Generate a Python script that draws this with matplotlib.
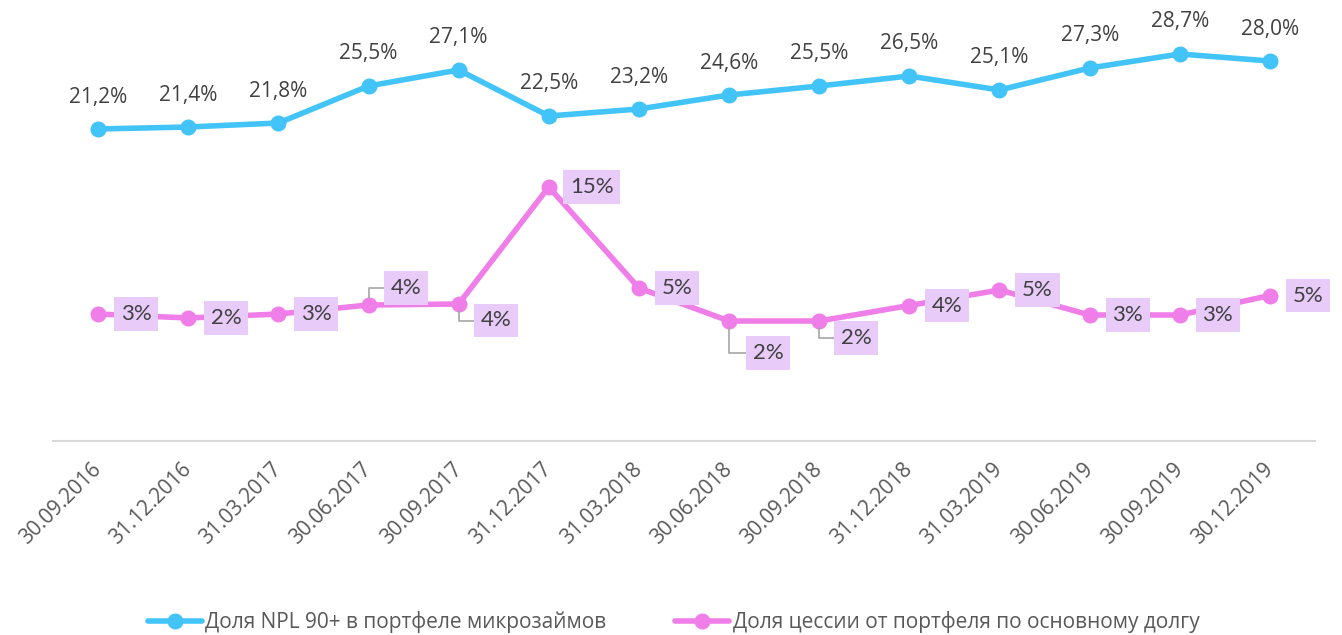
import matplotlib
matplotlib.use("Agg")
import matplotlib.pyplot as plt

categories = ["30.09.2016", "31.12.2016", "31.03.2017", "30.06.2017", "30.09.2017",
              "31.12.2017", "31.03.2018", "30.06.2018", "30.09.2018", "31.12.2018",
              "31.03.2019", "30.06.2019", "30.09.2019", "30.12.2019"]
npl_values = [21.2, 21.4, 21.8, 25.5, 27.1, 22.5, 23.2, 24.6, 25.5, 26.5, 25.1, 27.3, 28.7, 28.0]
cession_values = [2.7, 2.3, 2.7, 3.6, 3.7, 15.4, 5.3, 2.0, 2.0, 3.55, 5.1, 2.6, 2.6, 4.55]
series_names = ["Доля NPL 90+ в портфеле микрозаймов",
                "Доля цессии от портфеля по основному долгу"]

BLUE = "#42C4F8"
PINK = "#F07EE8"
BOX = "#E8CBF9"
TXT = "#404040"
GRAY = "#595959"

plt.rcParams['font.family'] = ['Open Sans', 'DejaVu Sans']

fig = plt.figure(figsize=(13.42, 6.35), dpi=100)
ax = fig.add_axes([53/1342, 194/635, 1262/1342, 400/635])
x = list(range(len(categories)))

ax.plot(x, npl_values, color=BLUE, lw=4, marker='o', ms=10.5, zorder=4,
        solid_capstyle='round', label=series_names[0])
ax.plot(x, cession_values, color=PINK, lw=4, marker='o', ms=10.5, zorder=4,
        solid_capstyle='round', label=series_names[1])

ax.set_xlim(-0.5, len(categories) - 0.5)
ax.set_ylim(-10, 30)

for s in ['top', 'right', 'left']:
    ax.spines[s].set_visible(False)
ax.spines['bottom'].set_position(('data', -10))
ax.spines['bottom'].set_color('#D9D9D9')
ax.spines['bottom'].set_linewidth(1.5)
ax.set_yticks([])
ax.set_xticks(x)
ax.set_xticklabels(categories, rotation=45, ha='right', va='center',
                   rotation_mode='anchor', fontsize=15, color=GRAY)
ax.tick_params(axis='x', length=0, pad=18)

# blue labels
for xi, v in zip(x, npl_values):
    ax.annotate(f"{v:.1f}%".replace('.', ','), (xi, v), xytext=(0, 32),
                textcoords='offset pixels', ha='center', va='center',
                fontsize=15, color=TXT, zorder=6)

# pink labels
offsets = {3: (37.5, 17), 4: (37.5, -16.5), 5: (43, 0), 7: (39, -32), 8: (37, -17)}
leaders = {3, 4, 7, 8}
for xi, v in zip(x, cession_values):
    dx, dy = offsets.get(xi, (38, 0))
    label = f"{v:.0f}%"
    arrow = None
    if xi in leaders:
        arrow = dict(arrowstyle='-', color='#A6A6A6', lw=1.2,
                     connectionstyle='angle,angleA=0,angleB=90,rad=0',
                     relpos=(0, 0.5), shrinkA=0, shrinkB=5)
    ax.annotate(label, (xi, v), xytext=(dx, dy), textcoords='offset pixels',
                ha='center', va='center', fontsize=16, color=TXT,
                family=['Lato', 'DejaVu Sans'],
                bbox=dict(boxstyle='square,pad=0.3', fc=BOX, ec='none'),
                arrowprops=arrow, zorder=6)

leg = fig.legend(loc='center', bbox_to_anchor=(0.502, 1 - 622/635), ncol=2,
                 frameon=False, fontsize=15, handlelength=2.6, handletextpad=0.15,
                 columnspacing=3.3, labelcolor=GRAY)

fig.savefig("out.png", dpi=100)
